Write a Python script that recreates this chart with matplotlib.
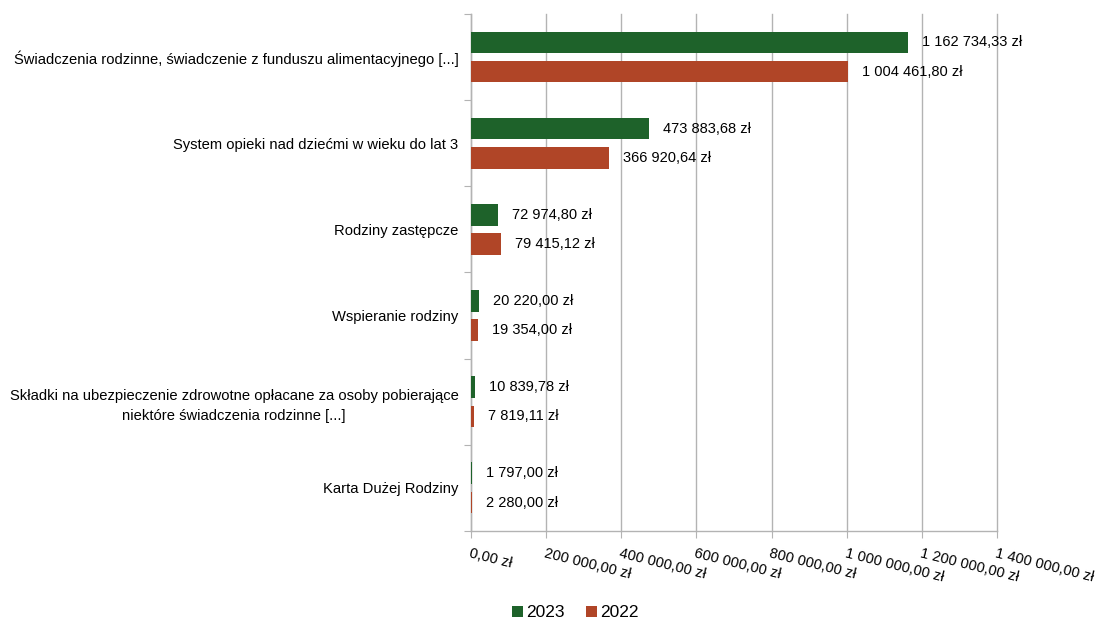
import matplotlib
matplotlib.use("Agg")
import matplotlib.pyplot as plt
import numpy as np

categories = [
    "Świadczenia rodzinne, świadczenie z funduszu alimentacyjnego [...]",
    "System opieki nad dziećmi w wieku do lat 3",
    "Rodziny zastępcze",
    "Wspieranie rodziny",
    "Składki na ubezpieczenie zdrowotne opłacane za osoby pobierające\nniektóre świadczenia rodzinne [...]",
    "Karta Dużej Rodziny",
]
values_2023 = [1162734.33, 473883.68, 72974.80, 20220.00, 10839.78, 1797.00]
values_2022 = [1004461.80, 366920.64, 79415.12, 19354.00, 7819.11, 2280.00]
series_names = ["2023", "2022"]
x_ticks = [0, 200000, 400000, 600000, 800000, 1000000, 1200000, 1400000]

color_2023 = "#1E622A"
color_2022 = "#B04527"
grid_color = "#B3B3B3"

plt.rcParams['font.family'] = ['Liberation Sans', 'DejaVu Sans']


def fmt_pln(v):
    s = f"{v:,.2f}"
    intpart, dec = s.split(".")
    intpart = intpart.replace(",", " ")
    return f"{intpart},{dec} zł"


fig = plt.figure(figsize=(10.98, 6.22), dpi=100)
ax = fig.add_axes([0.429, 0.1463, 0.479, 0.8312])

n = len(categories)
y = np.arange(n)
h = 0.25
off = 0.17
b1 = ax.barh(y - off, values_2023, height=h, color=color_2023, label=series_names[0], zorder=3)
b2 = ax.barh(y + off, values_2022, height=h, color=color_2022, label=series_names[1], zorder=3)

fs = 10.5
for bars, vals in ((b1, values_2023), (b2, values_2022)):
    for rect, v in zip(bars, vals):
        ax.annotate(fmt_pln(v), xy=(v, rect.get_y() + rect.get_height() / 2),
                    xytext=(10, 0), textcoords="offset points",
                    ha="left", va="center", fontsize=fs, color="black")

ax.set_xlim(0, 1400000)
ax.set_ylim(n - 0.5, -0.5)

ax.set_xticks(x_ticks)
ax.set_xticklabels([fmt_pln(t) for t in x_ticks], rotation=-14, ha="left",
                   va="top", rotation_mode="anchor", fontsize=fs)
ax.tick_params(axis="x", direction="out", length=5, color=grid_color, pad=6)

ax.set_yticks(np.arange(-0.5, n, 1.0))
ax.set_yticklabels([])
ax.set_yticks(y, minor=True)
ax.set_yticklabels(categories, minor=True, fontsize=10.65, multialignment="center",
                   linespacing=1.55)
ax.tick_params(axis="y", which="major", direction="out", length=5, color=grid_color)
ax.tick_params(axis="y", which="minor", length=0, pad=9)

ax.grid(axis="x", color=grid_color, linewidth=1, zorder=0)
for gl in ax.get_xgridlines():
    gl.set_clip_on(False)
for side in ("top", "right"):
    ax.spines[side].set_visible(False)
for side in ("left", "bottom"):
    ax.spines[side].set_color(grid_color)
    ax.spines[side].set_linewidth(1)

fig.legend(handles=[b1, b2], labels=series_names, loc="center",
           bbox_to_anchor=(0.524, 0.0145), ncol=2, frameon=False,
           fontsize=12.5, handlelength=0.6, handleheight=0.6,
           handletextpad=0.2, columnspacing=1.25)

fig.savefig("out.png", dpi=100)
